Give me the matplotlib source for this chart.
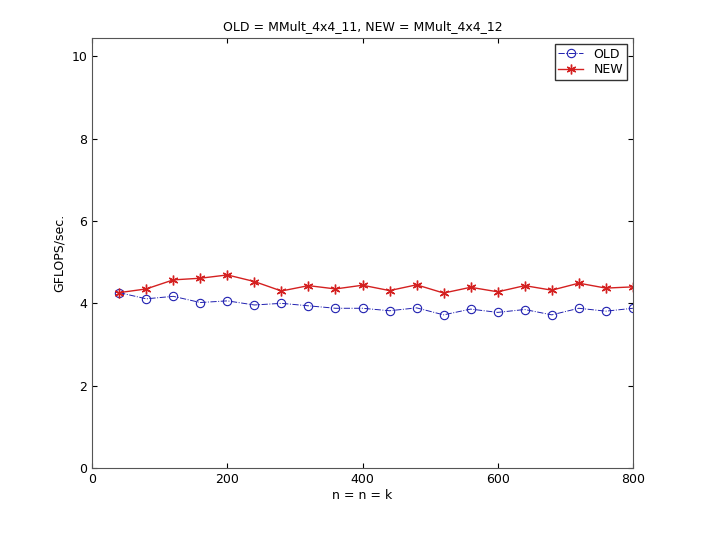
import matplotlib
matplotlib.use("Agg")
import matplotlib.pyplot as plt

n = [40,80,120,160,200,240,280,320,360,400,440,480,520,560,600,640,680,720,760,800]
old = [4.26,4.11,4.17,4.02,4.06,3.96,4.00,3.94,3.88,3.88,3.82,3.89,3.72,3.86,3.78,3.85,3.72,3.88,3.81,3.88]
new = [4.26,4.35,4.57,4.61,4.69,4.53,4.30,4.43,4.35,4.44,4.31,4.45,4.25,4.39,4.28,4.43,4.32,4.49,4.37,4.40]

fig = plt.figure(figsize=(7.2, 5.41), dpi=100)
ax = fig.add_axes([0.128, 0.135, 0.751, 0.795])
ax.plot(n, old, linestyle='-.', color='#2020b0', marker='o', mfc='none', ms=6, lw=0.7, mew=0.8, label='OLD')
ax.plot(n, new, linestyle='-', color='#d42020', marker=(6, 2, 0), ms=7, lw=1.0, mew=1.0, label='NEW')
ax.set_xlim(0, 800)
ax.set_ylim(0, 10.45)
ax.set_xticks([0,200,400,600,800])
ax.set_yticks([0,2,4,6,8,10])
for s in ax.spines.values():
    s.set_color('#555555')
ax.tick_params(direction='in', labelsize=9, top=True, right=True)
ax.set_xlabel('n = n = k', fontsize=9, labelpad=2)
ax.set_ylabel('GFLOPS/sec.', fontsize=9)
ax.set_title('OLD = MMult_4x4_11, NEW = MMult_4x4_12', fontsize=9)
ax.legend(loc='upper right', fontsize=9, fancybox=False, edgecolor='black', borderpad=0.3, handlelength=2, labelspacing=0.2)
fig.savefig('out.png', dpi=100)
